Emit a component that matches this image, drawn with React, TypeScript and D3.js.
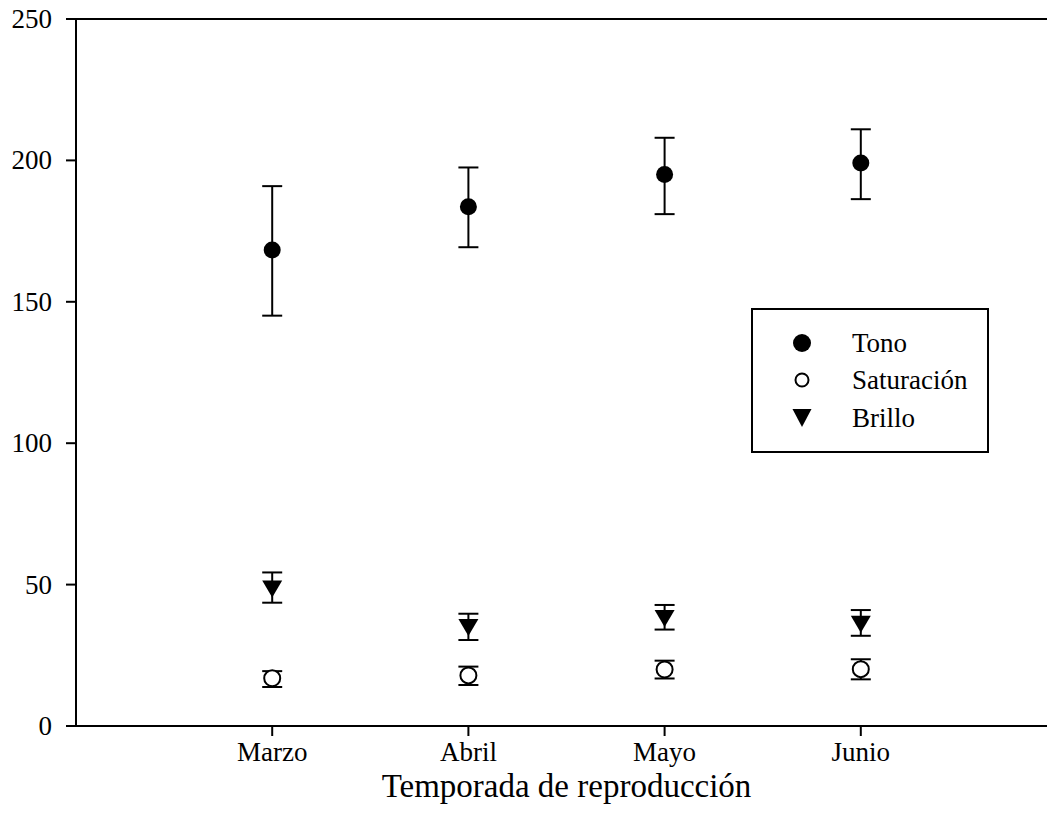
import React from "react";
import * as d3 from "d3";

const months = ["Marzo", "Abril", "Mayo", "Junio"];
const tonoMean = [168.3, 183.6, 195.0, 199.1];
const tonoLow = [145.1, 169.3, 181.0, 186.3];
const tonoHigh = [190.9, 197.5, 208.0, 211.0];
const satMean = [16.9, 17.9, 20.0, 20.1];
const satLow = [13.8, 14.5, 16.8, 16.5];
const satHigh = [19.4, 21.0, 23.1, 23.6];
const brilloMean = [48.4, 34.8, 38.0, 36.0];
const brilloLow = [43.6, 30.4, 34.1, 31.9];
const brilloHigh = [54.3, 39.7, 42.8, 41.0];
const yTicks = [0, 50, 100, 150, 200, 250];
const legendLabels = ["Tono", "Saturación", "Brillo"];
const xTitle = "Temporada de reproducción";

const W = 1047;
const H = 815;
const left = 76;
const right = 1057;
const top = 19;
const bottom = 726;
const font = "'Liberation Serif', 'Times New Roman', serif";

export default function App() {
  const x = d3.scaleLinear().domain([0, 5]).range([left, right]);
  const y = d3.scaleLinear().domain([0, 250]).range([bottom, top]);
  const cap = 10;

  const errBar = (i: number, lo: number, hi: number, key: string) => (
    <g key={key} stroke="#000" strokeWidth={2}>
      <line x1={x(i + 1)} x2={x(i + 1)} y1={y(lo)} y2={y(hi)} />
      <line x1={x(i + 1) - cap} x2={x(i + 1) + cap} y1={y(lo)} y2={y(lo)} />
      <line x1={x(i + 1) - cap} x2={x(i + 1) + cap} y1={y(hi)} y2={y(hi)} />
    </g>
  );

  const tri = (cx: number, cy: number, hw: number, h: number) =>
    `M${cx - hw},${cy - h / 2}L${cx + hw},${cy - h / 2}L${cx},${cy + h / 2}Z`;

  const legX = 752;
  const legY = 309;
  const legW = 236;
  const legH = 143;
  const rowY = [343, 380, 418];

  return (
    <svg width={W} height={H} style={{ position: "absolute", left: 0, top: 0 }} fontFamily={font}>
      <rect width={W} height={H} fill="#fff" />
      {/* axes */}
      <line x1={left} x2={left} y1={top} y2={bottom} stroke="#000" strokeWidth={2} />
      <line x1={left - 10} x2={right} y1={bottom} y2={bottom} stroke="#000" strokeWidth={2} />
      <line x1={left - 10} x2={right} y1={top} y2={top} stroke="#000" strokeWidth={2} />
      {yTicks.map((t) => (
        <g key={"yt" + t}>
          <line x1={left - 10} x2={left} y1={y(t)} y2={y(t)} stroke="#000" strokeWidth={2} />
          <text x={52} y={y(t) + 9} textAnchor="end" fontSize={27} fill="#000">
            {t}
          </text>
        </g>
      ))}
      {months.map((m, i) => (
        <g key={"xt" + m}>
          <line x1={x(i + 1)} x2={x(i + 1)} y1={bottom} y2={bottom + 10} stroke="#000" strokeWidth={2} />
          <text x={x(i + 1)} y={761} textAnchor="middle" fontSize={27} fill="#000">
            {m}
          </text>
        </g>
      ))}
      <text x={(left + right) / 2} y={797} textAnchor="middle" fontSize={33} fill="#000">
        {xTitle}
      </text>

      {/* error bars */}
      {months.map((m, i) => errBar(i, tonoLow[i], tonoHigh[i], "te" + i))}
      {months.map((m, i) => errBar(i, satLow[i], satHigh[i], "se" + i))}
      {months.map((m, i) => errBar(i, brilloLow[i], brilloHigh[i], "be" + i))}

      {/* markers */}
      {tonoMean.map((v, i) => (
        <circle key={"tm" + i} cx={x(i + 1)} cy={y(v)} r={8.5} fill="#000" />
      ))}
      {satMean.map((v, i) => (
        <circle key={"sm" + i} cx={x(i + 1)} cy={y(v)} r={8} fill="#fff" stroke="#000" strokeWidth={2} />
      ))}
      {brilloMean.map((v, i) => (
        <path key={"bm" + i} d={tri(x(i + 1), y(v), 10, 17)} fill="#000" />
      ))}

      {/* legend */}
      <rect x={legX} y={legY} width={legW} height={legH} fill="#fff" stroke="#000" strokeWidth={2} />
      <circle cx={802} cy={rowY[0]} r={9} fill="#000" />
      <circle cx={802} cy={rowY[1]} r={6.5} fill="#fff" stroke="#000" strokeWidth={2} />
      <path d={tri(802, rowY[2], 9.5, 18)} fill="#000" />
      {legendLabels.map((l, i) => (
        <text key={"lg" + l} x={852} y={rowY[i] + 9} fontSize={27} fill="#000">
          {l}
        </text>
      ))}
    </svg>
  );
}
